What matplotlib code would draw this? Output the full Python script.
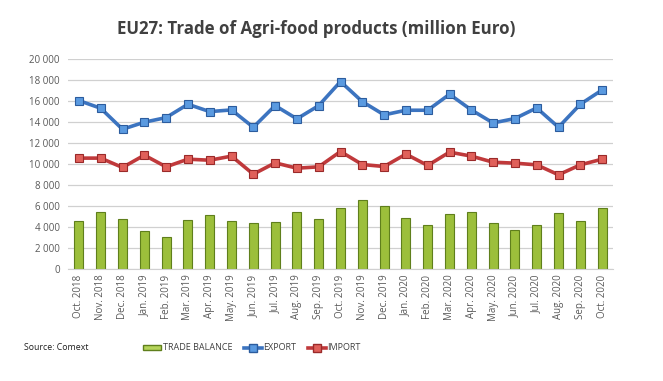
import matplotlib.pyplot as plt
from matplotlib.lines import Line2D
from matplotlib.patches import Patch
import matplotlib.ticker as mticker

plt.rcParams['font.family'] = ['Open Sans', 'DejaVu Sans']

months = ["Oct. 2018", "Nov. 2018", "Dec. 2018", "Jan. 2019", "Feb. 2019", "Mar. 2019",
          "Apr. 2019", "May. 2019", "Jun. 2019", "Jul. 2019", "Aug. 2019", "Sep. 2019",
          "Oct. 2019", "Nov. 2019", "Dec. 2019", "Jan. 2020", "Feb. 2020", "Mar. 2020",
          "Apr. 2020", "May. 2020", "Jun. 2020", "Jul. 2020", "Aug. 2020", "Sep. 2020",
          "Oct. 2020"]
export = [16040, 15310, 13310, 13980, 14420, 15690, 14990, 15150, 13500, 15560, 14300, 15560,
          17850, 15940, 14680, 15120, 15120, 16640, 15150, 13910, 14330, 15340, 13500, 15690,
          17050]
imports = [10560, 10560, 9670, 10840, 9730, 10460, 10360, 10750, 9030, 10110, 9600, 9730,
           11190, 9950, 9760, 10940, 9860, 11130, 10750, 10170, 10080, 9920, 8970, 9920,
           10460]
balance = [4530, 5420, 4750, 3610, 3040, 4630, 5140, 4600, 4370, 4440, 5390, 4750,
           5800, 6590, 5960, 4850, 4220, 5230, 5420, 4370, 3740, 4220, 5360, 4530,
           5800]

fig = plt.figure(figsize=(6.63, 3.81), dpi=100)
ax = fig.add_axes([68 / 663, 1 - 269 / 381, 545 / 663, 210 / 381])

x = range(len(months))
ax.bar(x, balance, width=0.42, color='#9cbf3b', edgecolor='#5f7f1c', linewidth=0.8, zorder=2)
ax.plot(x, export, color='#3c74c0', lw=2.6, marker='s', ms=5.5,
        mfc='#5a9ae0', mec='#2c5c9e', mew=0.8, zorder=3)
ax.plot(x, imports, color='#c0393b', lw=2.6, marker='s', ms=5.5,
        mfc='#e0605a', mec='#9a2a2a', mew=0.8, zorder=3)

ax.set_xlim(-0.5, len(months) - 0.5)
ax.set_ylim(0, 20000)
ax.set_yticks(range(0, 20001, 2000))
ax.yaxis.set_major_formatter(mticker.FuncFormatter(lambda v, p: f"{int(v):,}".replace(",", " ")))
ax.grid(axis='y', color='#d0d0d0', lw=0.9, zorder=0)
ax.set_axisbelow(True)
for s in ['top', 'right', 'left']:
    ax.spines[s].set_visible(False)
ax.spines['bottom'].set_color('#d0d0d0')
ax.set_xticks(list(x))
ax.set_xticklabels(months, rotation=90, fontsize=7, color='#595959')
ax.tick_params(axis='y', labelsize=7, colors='#595959', length=0, pad=6)
ax.tick_params(axis='x', length=0, pad=4)

fig.text(0.477, 0.925, "EU27: Trade of Agri-food products (million Euro)", ha='center', va='center',
         fontsize=12.2, fontweight='bold', color='#404040')
fig.text(24 / 663, 1 - 348 / 381, "Source: Comext", fontsize=6.3, color='#202020', va='center')

handles = [Patch(facecolor='#b5d45a', edgecolor='#5f7f1c'),
           Line2D([], [], color='#3c74c0', lw=2.6, marker='s', ms=5.5, mfc='#5a9ae0', mec='#2c5c9e'),
           Line2D([], [], color='#c0393b', lw=2.6, marker='s', ms=5.5, mfc='#e0605a', mec='#9a2a2a')]
fig.legend(handles, ["TRADE BALANCE", "EXPORT", "IMPORT"], loc='center', ncol=3,
           bbox_to_anchor=(0.38, 1 - 348 / 381), frameon=False, fontsize=6.5,
           handlelength=2.0, handleheight=0.5, handletextpad=0.15, columnspacing=1.3,
           labelcolor='#404040')

fig.savefig('out.png', dpi=100)
